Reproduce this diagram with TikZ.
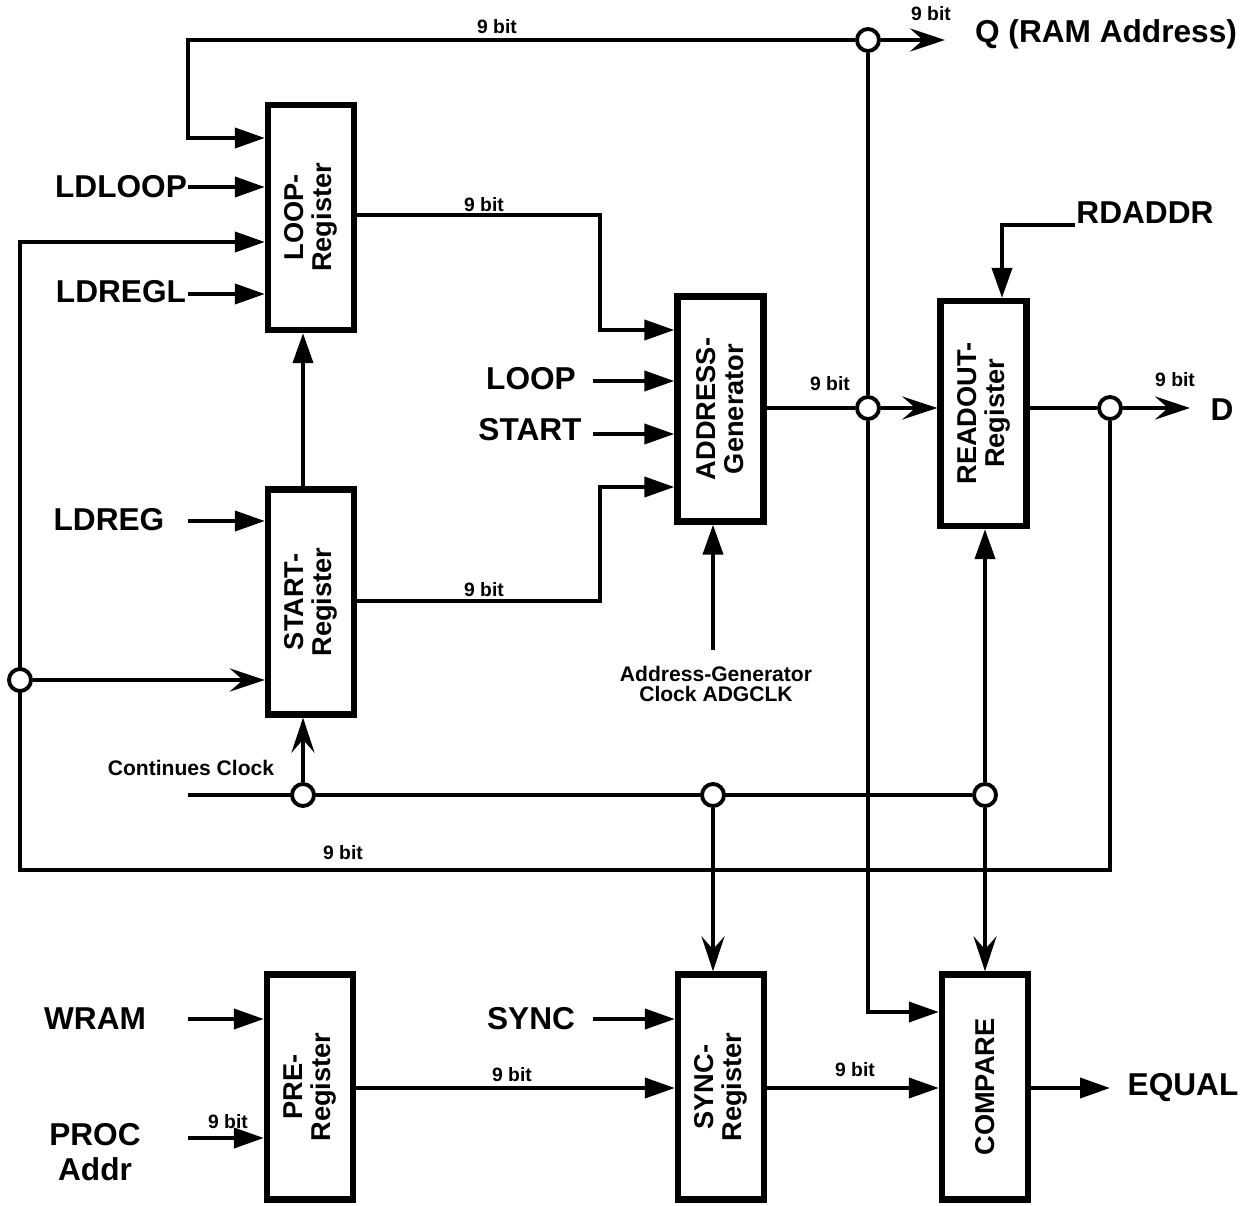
\documentclass[tikz,border=0pt]{standalone}
\usepackage{fontspec}
\setmainfont{Liberation Sans}
\usetikzlibrary{arrows.meta, backgrounds}
\tikzset{
  reg/.style={
    rectangle, draw, line width=3.6pt,
    minimum width=1.72cm, minimum height=4.5cm, inner sep=0pt},
  regtxt/.style={
    rotate=90, align=center,
    font=\fontsize{15.5}{16}\selectfont\bfseries},
  sig/.style={font=\fontsize{18}{20}\selectfont\bfseries, align=center, inner sep=0pt},
  bits/.style={font=\fontsize{11}{12}\selectfont\bfseries, inner sep=0pt},
  note/.style={font=\fontsize{12}{11.5}\selectfont\bfseries, align=center, inner sep=0pt},
  dot/.style={circle, draw, fill=white, line width=2.2pt, minimum size=0.44cm, inner sep=0pt},
  wire/.style={line width=2.2pt},
  arr/.style={wire, -{Triangle[length=6mm,width=4mm]}},
  oarr/.style={wire, -{Stealth[open,length=7mm,width=4.6mm,inset=2.6mm,line width=2.5pt]}},
}

\begin{document}
\begin{tikzpicture}[x=0.02cm, y=-0.02cm, line width=2.2pt]
  \useasboundingbox (0,0) rectangle (1254,1206);

  % registers
  \node[reg] (loop)    at (311,217.5)  {};
  \node[reg] (start)   at (311,602)    {};
  \node[reg] (addr)    at (720.5,409)  {};
  \node[reg] (readout) at (983.5,413.5){};
  \node[reg] (pre)     at (310,1087)   {};
  \node[reg] (sync)    at (721,1087)   {};
  \node[reg] (compare) at (985,1087)   {};

  \node[regtxt] (loopT)    at (loop)    {LOOP-\\Register};
  \node[regtxt] (startT)   at (start)   {START-\\Register};
  \node[regtxt] (addrT)    at (addr)    {ADDRESS-\\Generator};
  \node[regtxt] (readoutT) at (readout) {READOUT-\\Register};
  \node[regtxt] (preT)     at (pre)     {PRE-\\Register};
  \node[regtxt] (syncT)    at (sync)    {SYNC-\\Register};
  \node[regtxt] (compareT) at (compare) {COMPARE};

  % junctions
  \node[dot] (dotQ)  at (868,40)  {};
  \node[dot] (dotA)  at (868,408) {};
  \node[dot] (dotD)  at (1110,408){};
  \node[dot] (dotL)  at (20,680)  {};
  \node[dot] (dotC1) at (303,795) {};
  \node[dot] (dotC2) at (713,795) {};
  \node[dot] (dotC3) at (985,795) {};

  % signal names
  \node[sig] (ldloop)  at (121,187)  {LDLOOP};
  \node[sig] (ldregl)  at (121,292)  {LDREGL};
  \node[sig] (ldreg)   at (109,520)  {LDREG};
  \node[sig] (loopS)   at (531,379)  {LOOP};
  \node[sig] (startS)  at (530,430)  {START};
  \node[sig] (wram)    at (95,1019)  {WRAM};
  \node[sig] (proc)    at (95,1152)  {PROC\\Addr};
  \node[sig] (syncS)   at (531,1019) {SYNC};
  \node[sig] (equal)   at (1183,1088){EQUAL};
  \node[sig] (dS)      at (1222,410) {D};
  \node[sig] (rdaddr)  at (1145,213) {RDADDR};
  \node[sig] (qS)      at (1106,34)  {Q (RAM Address)};
  \node[note] (clkS)   at (191,768)  {Continues Clock};
  \node[note] (adgclk) at (716,684)  {Address-Generator\\Clock ADGCLK};

  % bus widths
  \node[bits] (b1)  at (497,27)   {9 bit};
  \node[bits] (b2)  at (931,14)   {9 bit};
  \node[bits] (b3)  at (484,205)  {9 bit};
  \node[bits] (b4)  at (484,590)  {9 bit};
  \node[bits] (b5)  at (830,384)  {9 bit};
  \node[bits] (b6)  at (1175,380) {9 bit};
  \node[bits] (b7)  at (343,853)  {9 bit};
  \node[bits] (b8)  at (228,1122) {9 bit};
  \node[bits] (b9)  at (512,1075) {9 bit};
  \node[bits] (b10) at (855,1070) {9 bit};

  % free ends and bends
  \coordinate (qturn)      at (188,40);
  \coordinate (qOut)       at (945,40);
  \coordinate (ldloopIn)   at (188,187);
  \coordinate (ldreglIn)   at (188,294);
  \coordinate (ldregIn)    at (188,521);
  \coordinate (fbL)        at (20,870);
  \coordinate (loopBend)   at (600,330);
  \coordinate (startBend)  at (600,487);
  \coordinate (loopSigIn)  at (593,381);
  \coordinate (startSigIn) at (593,434);
  \coordinate (adgIn)      at (713,650);
  \coordinate (rdIn)       at (1075,225);
  \coordinate (dOut)       at (1190,408);
  \coordinate (clkIn)      at (188,795);
  \coordinate (wramIn)     at (188,1019);
  \coordinate (procIn)     at (188,1138);
  \coordinate (syncSigIn)  at (593,1019);
  \coordinate (eqOut)      at (1110,1088);

  \begin{scope}[on background layer, line width=2.2pt]
    \draw[oarr] (dotQ) -- (qOut);
    \draw[arr] (dotQ) -- (qturn) |- (loop.west |- 0,138);
    \draw[arr] (ldloopIn) -- (ldloopIn -| loop.west);
    \draw[arr] (dotD) |- (fbL) |- (loop.west |- 0,242);
    \draw[arr] (ldreglIn) -- (ldreglIn -| loop.west);
    \draw[oarr] (dotL) -- (dotL -| start.west);
    \draw[arr] (ldregIn) -- (ldregIn -| start.west);
    \draw[arr] (start.north -| dotC1) -- (loop.south -| dotC1);

    \draw[arr] (loop.east |- 0,215) -| (loopBend) -- (loopBend -| addr.west);
    \draw[arr] (start.east |- 0,601) -| (startBend) -- (startBend -| addr.west);
    \draw[arr] (loopSigIn) -- (loopSigIn -| addr.west);
    \draw[arr] (startSigIn) -- (startSigIn -| addr.west);
    \draw[arr] (adgIn) -- (adgIn |- addr.south);

    \draw[wire] (addr.east |- dotA) -- (dotA);
    \draw[oarr] (dotA) -- (dotA -| readout.west);
    \draw[wire] (dotA) -- (dotQ);
    \draw[arr] (dotA) |- (compare.west |- 0,1012);
    \draw[arr] (rdIn) -| (readout.north -| 1002,0);
    \draw[wire] (readout.east |- dotD) -- (dotD);
    \draw[oarr] (dotD) -- (dOut);

    \draw[wire] (clkIn) -- (dotC3);
    \draw[oarr] (dotC1) -- (dotC1 |- start.south);
    \draw[oarr] (dotC2) -- (dotC2 |- sync.north);
    \draw[arr] (dotC3) -- (dotC3 |- readout.south);
    \draw[oarr] (dotC3) -- (dotC3 |- compare.north);

    \draw[arr] (wramIn) -- (wramIn -| pre.west);
    \draw[arr] (procIn) -- (procIn -| pre.west);
    \draw[arr] (pre.east |- 0,1088) -- (sync.west |- 0,1088);
    \draw[arr] (syncSigIn) -- (syncSigIn -| sync.west);
    \draw[arr] (sync.east |- 0,1088) -- (compare.west |- 0,1088);
    \draw[arr] (compare.east |- 0,1088) -- (eqOut);
  \end{scope}

\end{tikzpicture}
\end{document}
